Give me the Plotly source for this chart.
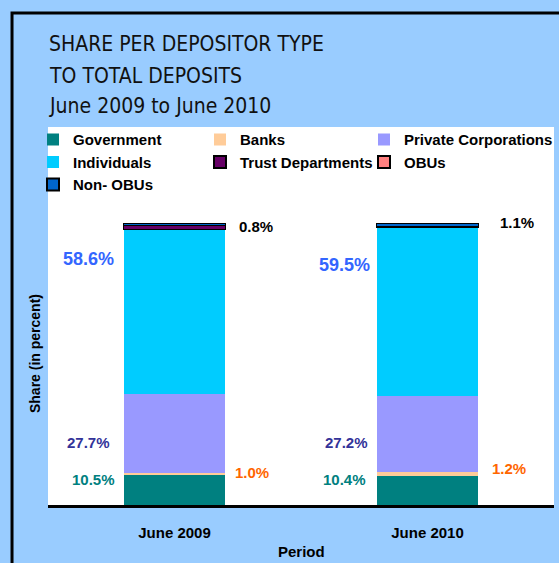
import plotly.graph_objects as go

periods = ["June 2009", "June 2010"]
series_names = ["Government", "Banks", "Private Corporations", "Individuals",
                "Trust Departments", "OBUs", "Non- OBUs"]
government = [10.5, 10.4]
banks = [1.0, 1.2]
private_corps = [27.7, 27.2]
individuals = [58.6, 59.5]
trust_departments = [1.2, 0.3]
obus = [0.0, 0.0]
non_obus = [0.8, 1.1]

title_lines = ["SHARE PER DEPOSITOR TYPE", "TO TOTAL DEPOSITS", "June 2009 to June 2010"]

values = [government, banks, private_corps, individuals, trust_departments, obus, non_obus]
colors = ["#008080", "#FFCC99", "#9999FF", "#00CCFF", "#660066", "#FF8080", "#0066CC"]
outlined = [False, False, False, False, True, True, True]
# legend column for each series (legend is laid out row-wise in three columns)
legend_ids = ["legend", "legend2", "legend3", "legend", "legend2", "legend3", "legend"]

BG = "#99CCFF"
FONT = "Arial, Liberation Sans, sans-serif"
TITLE_FONT = "Liberation Sans Narrow, DejaVu Sans Condensed, Arial Narrow, sans-serif"

fig = go.Figure()
for name, vals, col, ol, lg in zip(series_names, values, colors, outlined, legend_ids):
    fig.add_trace(go.Bar(
        x=periods, y=vals, name=name, legend=lg,
        marker=dict(color=col, line=dict(color="#000000" if ol else col, width=1 if ol else 0)),
        width=0.4,
    ))

# value labels: (series index, period index, x offset in category units, y placement, color, size, anchor)
label_specs = [
    (3, 0, -0.338, 87.2, "#3366FF", 18, "center"),
    (6, 0, 0.247, 98.9, "#000000", 15, "left"),
    (3, 1, -0.330, 85.1, "#3366FF", 18, "center"),
    (6, 1, 0.279, 100.0, "#000000", 15, "left"),
    (2, 0, -0.338, 22.3, "#333399", 15, "center"),
    (0, 0, -0.322, 9.2, "#008080", 15, "center"),
    (1, 0, 0.231, 11.7, "#FF6600", 15, "left"),
    (2, 1, -0.322, 22.3, "#333399", 15, "center"),
    (0, 1, -0.330, 9.2, "#008080", 15, "center"),
    (1, 1, 0.247, 12.8, "#FF6600", 15, "left"),
]
for si, pi, dx, ly, col, sz, anc in label_specs:
    fig.add_annotation(
        x=pi + dx, y=ly, xref="x", yref="y",
        text=f"{values[si][pi]:.1f}%", showarrow=False,
        font=dict(family=FONT, size=sz, color=col, weight="bold"),
        xanchor=anc,
    )

# Title lines (paper y of each line centre)
for line, ty in zip(title_lines, [1.220, 1.135, 1.056]):
    fig.add_annotation(
        x=-0.002, y=ty, xref="paper", yref="paper", xanchor="left", yanchor="middle",
        text=line, showarrow=False, align="left",
        font=dict(family=TITLE_FONT, size=21, color="#111111"),
    )

# axis titles
fig.add_annotation(x=-0.0257, y=0.402, xref="paper", yref="paper", textangle=-90,
                   xanchor="center", yanchor="middle",
                   text="Share (in percent)", showarrow=False,
                   font=dict(family=FONT, size=14, color="#000000", weight="bold"))
fig.add_annotation(x=0.5, y=-0.1243, xref="paper", yref="paper", yanchor="middle",
                   text="Period", showarrow=False,
                   font=dict(family=FONT, size=15, color="#000000", weight="bold"))

# outer frame
fig.add_shape(type="rect", xref="paper", yref="paper",
              x0=-0.0711, x1=1.2, y0=-0.4, y1=1.3016,
              line=dict(color="#000000", width=3), fillcolor="rgba(0,0,0,0)", layer="below")

legend_common = dict(orientation="v", y=1.01, yanchor="top", xanchor="left",
                     bgcolor="rgba(255,255,255,0)", traceorder="normal",
                     font=dict(family=FONT, size=15, color="#000000", weight="bold"),
                     itemsizing="constant", itemwidth=30, tracegroupgap=0)

fig.update_layout(
    width=559, height=563,
    margin=dict(l=48, r=5, t=127, b=58, autoexpand=False),
    paper_bgcolor=BG, plot_bgcolor="#FFFFFF",
    barmode="stack", bargap=0.6,
    showlegend=True,
    legend=dict(x=-0.0296, **legend_common),
    legend2=dict(x=0.3004, **legend_common),
    legend3=dict(x=0.6245, **legend_common),
    xaxis=dict(showline=True, linecolor="#000000", linewidth=3, ticks="", automargin=False,
               tickfont=dict(family=FONT, size=15, color="#000000", weight="bold"),
               ticklabelstandoff=12,
               range=[-0.5, 1.5]),
    yaxis=dict(range=[0, 134], showticklabels=False, showgrid=False, zeroline=False,
               ticks="", showline=False, automargin=False),
)

fig.write_html("out.html", config={"displayModeBar": False},
               post_script="document.body.style.margin='0';document.body.style.overflow='hidden';")
